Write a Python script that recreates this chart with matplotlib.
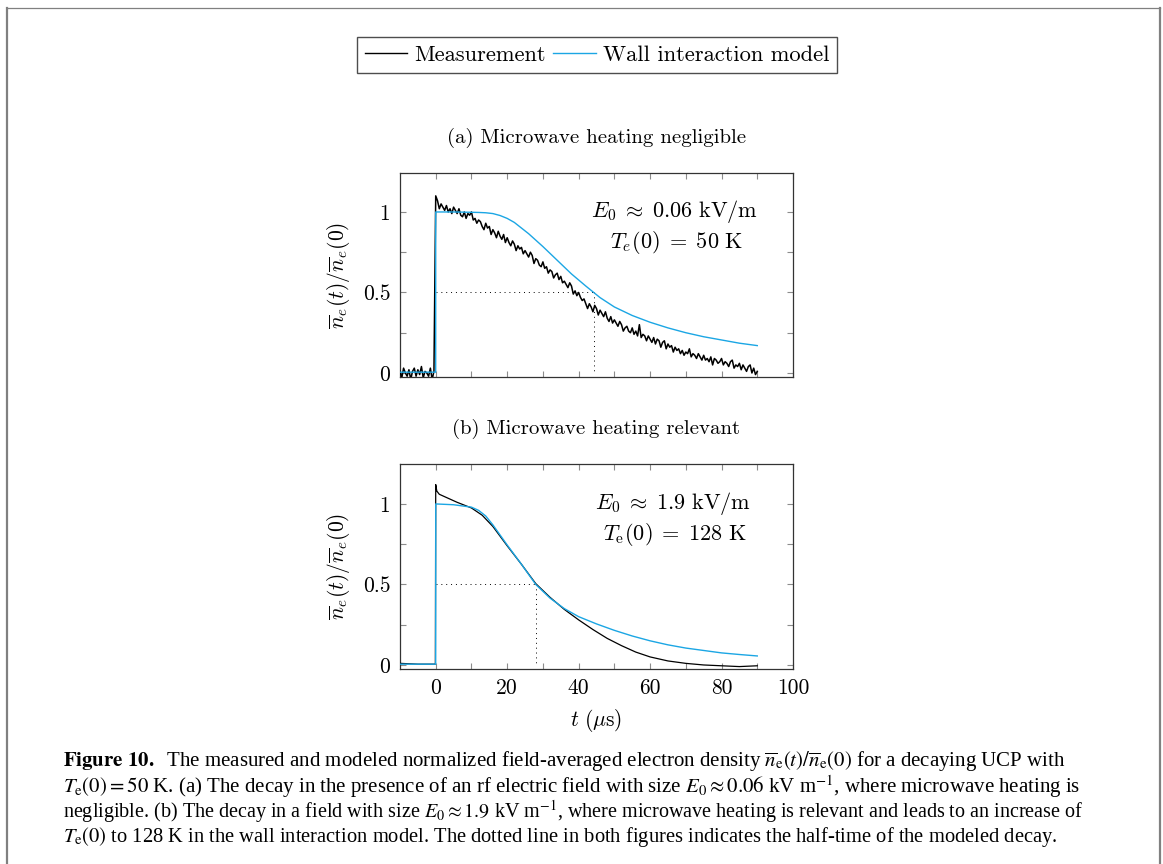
import numpy as np
import matplotlib
matplotlib.use('Agg')
import matplotlib.pyplot as plt
from matplotlib.lines import Line2D

# ---- data ----
t_meas_a = np.arange(-10, 90.5, 0.5)
n_meas_a = [
    0.01, -0.03, 0.03, 0.00, -0.02, 0.02, -0.04, 0.01, 0.03, -0.02,
    0.02, -0.01, 0.04, -0.03, 0.01, 0.00, -0.02, 0.03, -0.04, 0.01,
    1.10, 1.07, 1.02, 1.05, 1.03, 1.01, 1.04, 1.00, 1.02, 0.99,
    1.03, 1.01, 0.99, 1.02, 0.98, 0.97, 1.00, 0.96, 0.99, 0.98,
    1.00, 0.95, 0.96, 0.93, 0.95, 0.94, 0.91, 0.89, 0.93, 0.90,
    0.91, 0.86, 0.89, 0.87, 0.84, 0.88, 0.85, 0.83, 0.86, 0.81,
    0.84, 0.81, 0.79, 0.82, 0.80, 0.76, 0.79, 0.77, 0.78, 0.74,
    0.76, 0.74, 0.72, 0.75, 0.73, 0.68, 0.71, 0.70, 0.67, 0.66,
    0.69, 0.65, 0.66, 0.62, 0.64, 0.63, 0.59, 0.61, 0.62, 0.58,
    0.60, 0.56, 0.57, 0.55, 0.53, 0.56, 0.54, 0.49, 0.51, 0.48,
    0.50, 0.47, 0.45, 0.46, 0.43, 0.40, 0.43, 0.41, 0.38, 0.42,
    0.40, 0.36, 0.39, 0.37, 0.35, 0.38, 0.34, 0.32, 0.35, 0.31,
    0.33, 0.31, 0.29, 0.32, 0.30, 0.26, 0.28, 0.29, 0.26, 0.25,
    0.28, 0.24, 0.26, 0.23, 0.30, 0.22, 0.24, 0.23, 0.20, 0.23,
    0.21, 0.19, 0.22, 0.18, 0.21, 0.20, 0.16, 0.19, 0.20, 0.15,
    0.18, 0.16, 0.17, 0.13, 0.16, 0.14, 0.15, 0.12, 0.14, 0.11,
    0.13, 0.12, 0.15, 0.10, 0.12, 0.11, 0.09, 0.12, 0.10, 0.08,
    0.11, 0.08, 0.09, 0.07, 0.10, 0.05, 0.09, 0.08, 0.06, 0.07,
    0.09, 0.05, 0.07, 0.06, 0.04, 0.07, 0.08, 0.03, 0.05, 0.04,
    0.06, 0.02, 0.05, 0.03, 0.01, 0.04, 0.05, 0.00, 0.03, -0.01,
    0.01,
]
t_model_a = [-10, -0.01, 0, 5, 10, 12, 14, 16, 18, 20, 22, 24, 26, 28,
             30, 34, 38, 42, 46, 50, 55, 60, 65, 70, 75, 80, 85, 90]
n_model_a = [0.005, 0.005, 1.0, 1.0, 0.998, 0.997, 0.995, 0.99, 0.978,
             0.96, 0.935, 0.90, 0.865, 0.825, 0.785, 0.70, 0.615, 0.54,
             0.468, 0.41, 0.357, 0.315, 0.28, 0.25, 0.225, 0.205, 0.185,
             0.17]

t_meas_b = [-10, -5, -0.1, 0, 0.3, 1, 3, 6, 10, 13, 16, 20, 24, 28, 32,
            36, 40, 44, 48, 52, 56, 60, 65, 70, 75, 80, 85, 90]
n_meas_b = [0.01, 0.005, 0.005, 1.12, 1.08, 1.06, 1.04, 1.01, 0.975,
            0.93, 0.86, 0.74, 0.625, 0.505, 0.42, 0.345, 0.28, 0.22,
            0.165, 0.12, 0.08, 0.05, 0.025, 0.01, 0.0, -0.005, -0.01,
            -0.005]
t_model_b = [-10, -0.01, 0, 5, 10, 12, 14, 16, 20, 24, 28, 32, 36, 40,
             45, 50, 55, 60, 65, 70, 75, 80, 85, 90]
n_model_b = [0.005, 0.005, 1.0, 0.995, 0.98, 0.96, 0.925, 0.87, 0.745,
             0.625, 0.50, 0.415, 0.35, 0.30, 0.255, 0.215, 0.18, 0.15,
             0.125, 0.105, 0.09, 0.075, 0.065, 0.056]

half_times = [44.3, 28.0]
titles = ['(a) Microwave heating negligible',
          '(b) Microwave heating relevant']
field_labels = [r'$E_0 \;\approx\; 0.06\ \mathrm{kV/m}$',
                r'$E_0 \;\approx\; 1.9\ \mathrm{kV/m}$']
temp_labels = [r'$T_e(0) \;=\; 50\ \mathrm{K}$',
               r'$T_\mathrm{e}(0) \;=\; 128\ \mathrm{K}$']
x_ticks = [0, 10, 20, 30, 40, 50, 60, 70, 80, 90, 100]
y_ticks = [0, 0.25, 0.5, 0.75, 1]

caption_lines = [
    r'$\mathbf{Figure\ 10.}$  The measured and modeled normalized field-averaged electron density '
    r'$\overline{n}_\mathrm{e}(t)/\overline{n}_\mathrm{e}(0)$ for a decaying UCP with',
    r'$T_\mathrm{e}(0) = 50$ K. (a) The decay in the presence of an rf electric field with size '
    r'$E_0 \approx 0.06$ kV m$^{-1}$, where microwave heating is',
    r'negligible. (b) The decay in a field with size $E_0 \approx 1.9$ kV m$^{-1}$, '
    r'where microwave heating is relevant and leads to an increase of',
    r'$T_\mathrm{e}(0)$ to 128 K in the wall interaction model. '
    r'The dotted line in both figures indicates the half-time of the modeled decay.',
]
caption_sizes = [15, 15, 14.5, 14.8]

BLUE = '#1ba6e4'
CM = dict(family='cmr10', math_fontfamily='cm')
W, H = 1163.0, 864.0


def fx(px):
    return px / W


def fy(py):
    return 1 - py / H


def style_axes(ax, ylim, show_x):
    ax.set_xlim(-10, 100)
    ax.set_ylim(*ylim)
    ax.set_xticks(x_ticks)
    ax.set_yticks(y_ticks)
    if show_x:
        ax.set_xticklabels(['%d' % v if v % 20 == 0 else '' for v in x_ticks], **CM)
    else:
        ax.set_xticklabels([])
    ax.set_yticklabels(['0', '', '0.5', '', '1'], **CM)
    ax.tick_params(direction='in', top=True, right=True, length=4.5,
                   width=0.8, color='#8c8c8c', labelsize=15.5, pad=7)
    for s in ax.spines.values():
        s.set_color('#333333')
        s.set_linewidth(0.9)
    ax.set_ylabel(r'$\overline{n}_e(t)/\overline{n}_e(0)$', fontsize=15.5,
                  labelpad=8, **CM)


def draw_panel(ax, t_m, n_m, t_w, n_w, half, lw_meas):
    ax.plot(t_m, n_m, color='black', lw=lw_meas, zorder=3)
    ax.plot(t_w, n_w, color=BLUE, lw=1.0, zorder=4)
    ax.plot([0, half], [0.5, 0.5], color='black', lw=0.7, ls=(0, (1, 4)), zorder=2)
    ax.plot([half, half], [0.5, 0], color='black', lw=0.7, ls=(0, (1, 4)), zorder=2)


fig = plt.figure(figsize=(W / 100, H / 100), dpi=100)

ax_a = fig.add_axes([fx(400), fy(377), fx(793) - fx(400), fy(173) - fy(377)])
ax_b = fig.add_axes([fx(400), fy(669), fx(793) - fx(400), fy(464) - fy(669)])

draw_panel(ax_a, t_meas_a, n_meas_a, t_model_a, n_model_a, half_times[0], 1.1)
draw_panel(ax_b, t_meas_b, n_meas_b, t_model_b, n_model_b, half_times[1], 0.9)

style_axes(ax_a, (-0.025, 1.242), False)
style_axes(ax_b, (-0.025, 1.248), True)
ax_b.set_xlabel(r'$t\ (\mu\mathrm{s})$', fontsize=15.5, labelpad=6, **CM)

for ax, title, fl, tl, xc in zip([ax_a, ax_b], titles, field_labels,
                                 temp_labels, [66.9, 66.3]):
    ax.set_title(title, fontsize=15, pad=22, **CM)
    ax.text(xc, 1.0, fl, ha='center', va='center', fontsize=16, **CM)
    ax.text(xc + 0.6, 0.81, tl, ha='center', va='center', fontsize=16, **CM)

handles = [Line2D([], [], color='black', lw=1.0), Line2D([], [], color=BLUE, lw=1.0)]
leg = fig.legend(handles, ['Measurement', 'Wall interaction model'],
                 loc='center', bbox_to_anchor=(fx(597), fy(55)), ncol=2,
                 frameon=True, fancybox=False, handlelength=1.9,
                 handletextpad=0.3, columnspacing=0.35, borderpad=0.35,
                 prop={'family': 'cmr10', 'size': 16.2})
leg.get_frame().set_edgecolor('#222222')
leg.get_frame().set_linewidth(1.0)

# caption
for i, (line, size) in enumerate(zip(caption_lines, caption_sizes)):
    fig.text(fx(63), fy(761 + 25.3 * i), line, ha='left', va='center',
             fontsize=size, family='Liberation Serif', math_fontfamily='stix')

# page frame
frame = dict(transform=fig.transFigure, color='#808080')
fig.add_artist(Line2D([fx(7), fx(1160)], [fy(7.5), fy(7.5)], lw=0.9, **frame))
fig.add_artist(Line2D([fx(7), fx(7)], [0, fy(7.5)], lw=1.6, **frame))
fig.add_artist(Line2D([fx(1160), fx(1160)], [0, fy(7.5)], lw=1.6, **frame))

fig.savefig('out.png', dpi=100)
